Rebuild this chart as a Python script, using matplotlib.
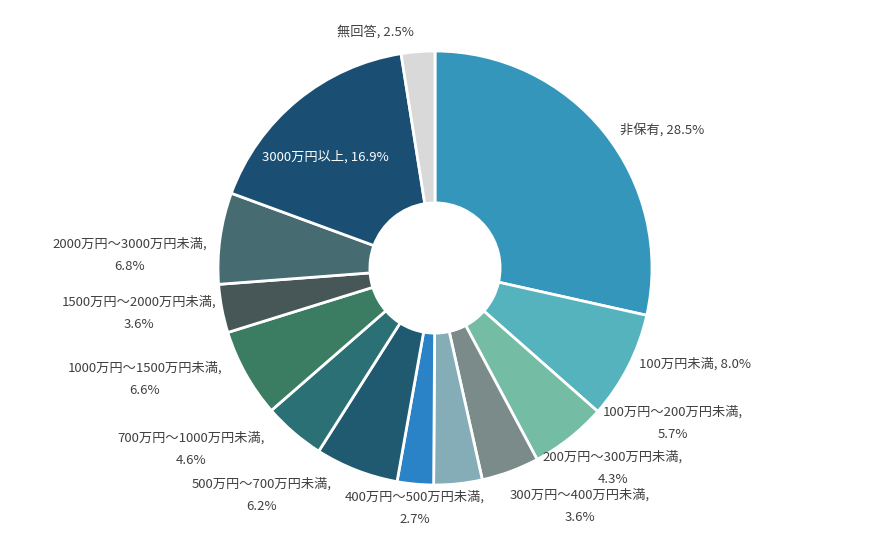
import matplotlib
matplotlib.use("Agg")
from matplotlib import pyplot as plt

plt.rcParams['font.family'] = ['Noto Sans CJK JP', 'DejaVu Sans']

labels = ['非保有', '100万円未満', '100万円～200万円未満', '200万円～300万円未満',
          '300万円～400万円未満', '400万円～500万円未満', '500万円～700万円未満',
          '700万円～1000万円未満', '1000万円～1500万円未満', '1500万円～2000万円未満',
          '2000万円～3000万円未満', '3000万円以上', '無回答']
values = [28.5, 8.0, 5.7, 4.3, 3.6, 2.7, 6.2, 4.6, 6.6, 3.6, 6.8, 16.9, 2.5]
colors = ['#3596BC', '#55B3BE', '#74BDA4', '#7A8B8A', '#84ADB8', '#2A83C6',
          '#1F5A70', '#2A7075', '#3A7D63', '#475656', '#466C72', '#1A4F73', '#D9D9D9']

# label anchor (pixel coords in the picture), two-line or not
label_pos = [(620, 130, 'left', False), (695, 364, 'center', False),
             (673, 423, 'center', True), (613, 468, 'center', True),
             (580, 506, 'center', True), (415, 508, 'center', True),
             (262, 495, 'center', True), (191, 449, 'center', True),
             (145, 379, 'center', True), (139, 313, 'center', True),
             (130, 255, 'center', True), (325, 157, 'center', False),
             (375, 32, 'center', False)]

W, H = 870, 533
fig = plt.figure(figsize=(W / 100, H / 100), dpi=100)
ax = fig.add_axes([0, 0, 1, 1])
ax.set_xlim(0, W)
ax.set_ylim(0, H)
ax.set_aspect('equal')
ax.axis('off')

cx, cy, r = 435, H - 268, 217
ax.pie(values, colors=colors, startangle=90, counterclock=False,
       center=(cx, cy), radius=r, frame=True,
       wedgeprops=dict(width=r * 0.70, edgecolor='white', linewidth=2))
ax.set_xlim(0, W)
ax.set_ylim(0, H)
ax.axis('off')

for lab, v, (px, py, ha, two) in zip(labels, values, label_pos):
    col = 'white' if lab == '3000万円以上' else '#404040'
    if two:
        txt = f'{lab},\n{v:.1f}%'
    else:
        txt = f'{lab}, {v:.1f}%'
    ax.text(px, H - py, txt, ha=ha, va='center', fontsize=9.5, color=col,
            linespacing=1.9, multialignment='center')

fig.savefig('out.png', dpi=100)
